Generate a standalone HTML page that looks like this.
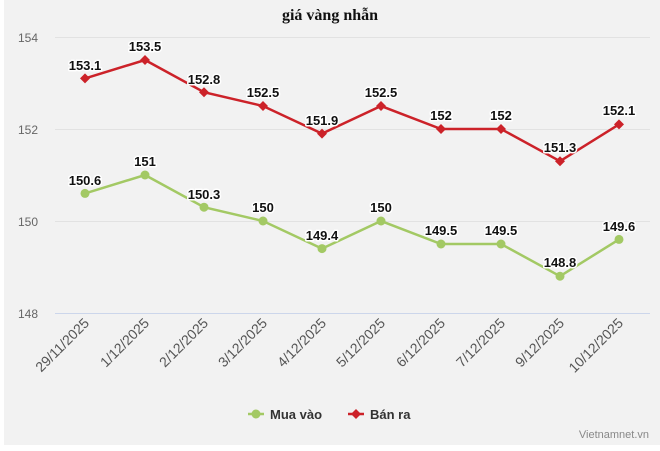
<!DOCTYPE html>
<html><head><meta charset="utf-8"><style>
body{margin:0;background:#fff;}
svg{display:block;font-family:"Liberation Sans",sans-serif;}
</style></head><body>
<svg width="660" height="451" viewBox="0 0 660 451">
<rect x="4" y="0" width="656" height="445" fill="#f2f2f2"/>
<text x="330" y="20" text-anchor="middle" font-family="Liberation Serif,serif" font-weight="bold" font-size="16" fill="#111">giá vàng nhẫn</text>
<g stroke="#e2e2e2" stroke-width="1">
<line x1="55" y1="37.5" x2="650" y2="37.5"/>
<line x1="55" y1="129.5" x2="650" y2="129.5"/>
<line x1="55" y1="221.5" x2="650" y2="221.5"/>
</g>
<line x1="55" y1="313.5" x2="650" y2="313.5" stroke="#ccd6eb"/>
<g font-size="12" fill="#666" text-anchor="end">
<text x="38" y="42">154</text><text x="38" y="134">152</text><text x="38" y="226">150</text><text x="38" y="318">148</text>
</g>
<g font-size="14" fill="#555" text-anchor="end">
<text transform="translate(90,324) rotate(-45)">29/11/2025</text>
<text transform="translate(150,324) rotate(-45)">1/12/2025</text>
<text transform="translate(209,324) rotate(-45)">2/12/2025</text>
<text transform="translate(268,324) rotate(-45)">3/12/2025</text>
<text transform="translate(327,324) rotate(-45)">4/12/2025</text>
<text transform="translate(386,324) rotate(-45)">5/12/2025</text>
<text transform="translate(446,324) rotate(-45)">6/12/2025</text>
<text transform="translate(506,324) rotate(-45)">7/12/2025</text>
<text transform="translate(565,324) rotate(-45)">9/12/2025</text>
<text transform="translate(624,324) rotate(-45)">10/12/2025</text>
</g>
<polyline fill="none" stroke="#cc2229" stroke-width="2.5" points="85,78.4 145,60 204,92.2 263,106 322,133.6 381,106 441,129 501,129 560,161.2 619,124.4"/>
<g fill="#cc2229">
<path d="M85,73.4l5,5-5,5-5-5z"/><path d="M145,55l5,5-5,5-5-5z"/><path d="M204,87.2l5,5-5,5-5-5z"/><path d="M263,101l5,5-5,5-5-5z"/><path d="M322,128.6l5,5-5,5-5-5z"/><path d="M381,101l5,5-5,5-5-5z"/><path d="M441,124l5,5-5,5-5-5z"/><path d="M501,124l5,5-5,5-5-5z"/><path d="M560,156.2l5,5-5,5-5-5z"/><path d="M619,119.4l5,5-5,5-5-5z"/>
</g>
<polyline fill="none" stroke="#a3c964" stroke-width="2.5" points="85,193.4 145,175 204,207.2 263,221 322,248.6 381,221 441,244 501,244 560,276.2 619,239.4"/>
<g fill="#a3c964">
<circle cx="85" cy="193.4" r="4.5"/><circle cx="145" cy="175" r="4.5"/><circle cx="204" cy="207.2" r="4.5"/><circle cx="263" cy="221" r="4.5"/><circle cx="322" cy="248.6" r="4.5"/><circle cx="381" cy="221" r="4.5"/><circle cx="441" cy="244" r="4.5"/><circle cx="501" cy="244" r="4.5"/><circle cx="560" cy="276.2" r="4.5"/><circle cx="619" cy="239.4" r="4.5"/>
</g>
<g font-size="13" font-weight="bold" fill="#111" text-anchor="middle" stroke="#fff" stroke-width="3" paint-order="stroke" stroke-linejoin="round">
<text x="85" y="70">153.1</text><text x="145" y="51">153.5</text><text x="204" y="84">152.8</text><text x="263" y="97">152.5</text><text x="322" y="125">151.9</text><text x="381" y="97">152.5</text><text x="441" y="120">152</text><text x="501" y="120">152</text><text x="560" y="152">151.3</text><text x="619" y="115">152.1</text>
<text x="85" y="185">150.6</text><text x="145" y="166">151</text><text x="204" y="199">150.3</text><text x="263" y="212">150</text><text x="322" y="240">149.4</text><text x="381" y="212">150</text><text x="441" y="235">149.5</text><text x="501" y="235">149.5</text><text x="560" y="267">148.8</text><text x="619" y="231">149.6</text>
</g>
<line x1="248" y1="414" x2="264" y2="414" stroke="#a3c964" stroke-width="2.5"/>
<circle cx="256" cy="414" r="4.5" fill="#a3c964"/>
<text x="270" y="419" font-size="13" font-weight="bold" fill="#333">Mua vào</text>
<line x1="348" y1="414" x2="364" y2="414" stroke="#cc2229" stroke-width="2.5"/>
<path d="M356,409l5,5-5,5-5-5z" fill="#cc2229"/>
<text x="370" y="419" font-size="13" font-weight="bold" fill="#333">Bán ra</text>
<text x="649" y="438" font-size="11" fill="#888" text-anchor="end">Vietnamnet.vn</text>
</svg>
</body></html>
